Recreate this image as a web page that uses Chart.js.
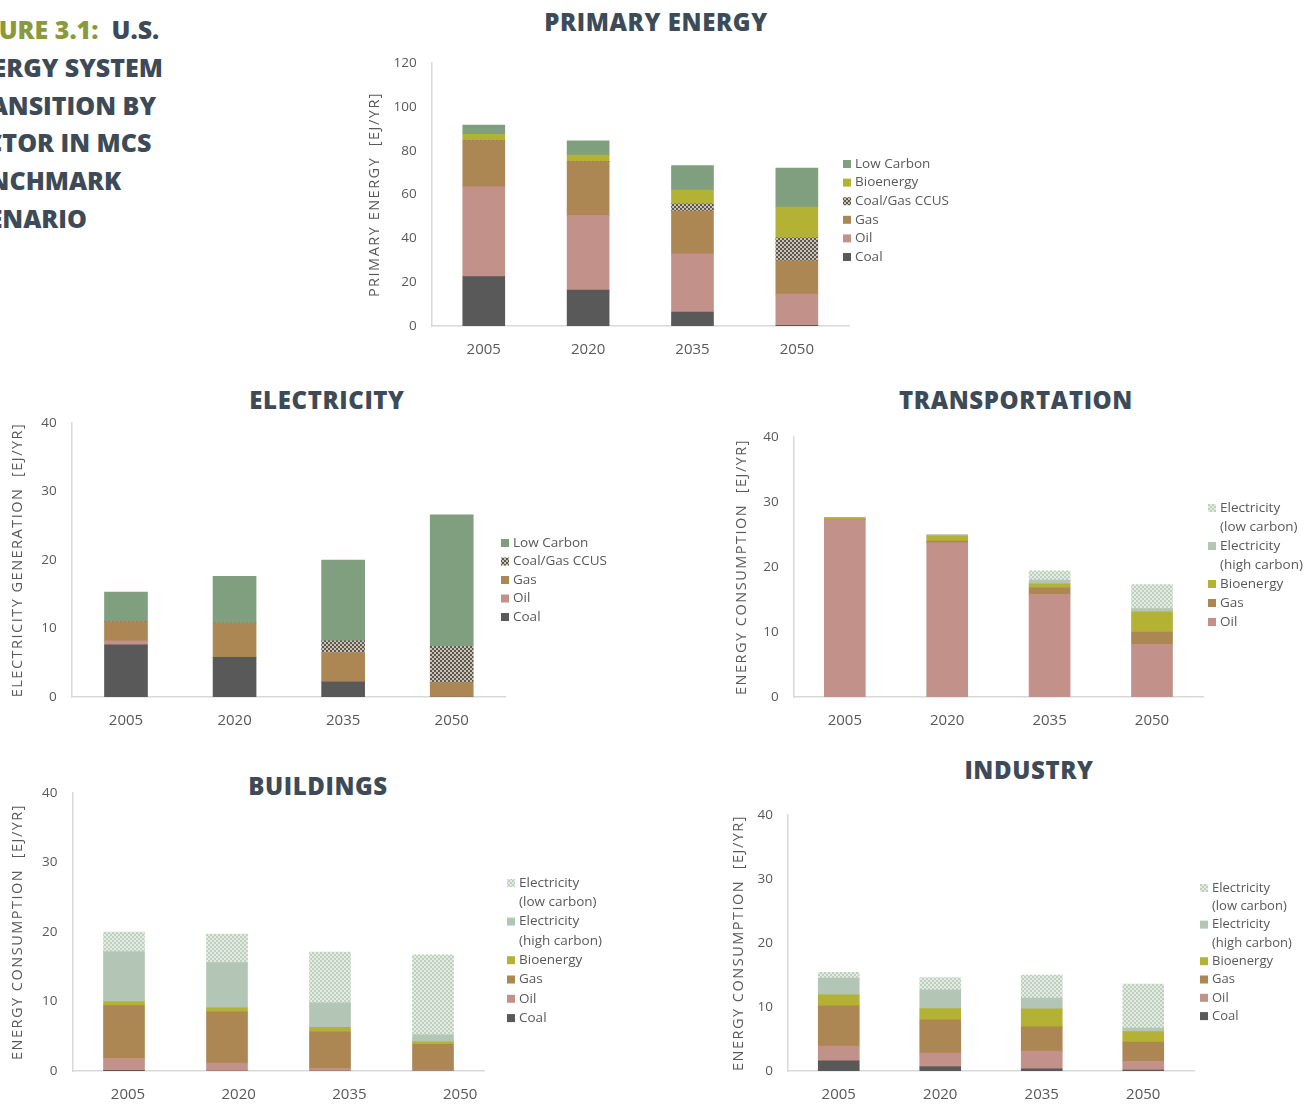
<!DOCTYPE html>
<html>
<head>
<meta charset="utf-8">
<script src="https://cdn.jsdelivr.net/npm/chart.js@4.4.1/dist/chart.umd.min.js"></script>
<style>
  body { margin: 0; background: #fff; overflow: hidden; }
  #page { position: relative; width: 1310px; height: 1104px; overflow: hidden; font-family: 'Open Sans', sans-serif; }
  #page canvas { position: absolute; left: 0; top: 0; }
  .fig-title { position: absolute; left: -42px; top: 11px; font-size: 25px; font-weight: 800; line-height: 37.8px; color: #3d4a57; white-space: nowrap; }
  .fig-title .num { color: #8a9a3b; }
  .sec { position: absolute; width: 400px; text-align: center; font-size: 24px; font-weight: 800; color: #3d4a57; line-height: 30px; letter-spacing: 0.6px; white-space: nowrap; }
</style>
</head>
<body>
<div id="page">
  <div class="fig-title"><span class="num">FIGURE 3.1:</span>&nbsp; U.S.<br>ENERGY SYSTEM<br>TRANSITION BY<br>SECTOR IN MCS<br>BENCHMARK<br>SCENARIO</div>
  <div class="sec" style="left:456px;top:7px">PRIMARY ENERGY</div>
  <div class="sec" style="left:127px;top:385px">ELECTRICITY</div>
  <div class="sec" style="left:816px;top:385px">TRANSPORTATION</div>
  <div class="sec" style="left:118px;top:771px">BUILDINGS</div>
  <div class="sec" style="left:829px;top:755px">INDUSTRY</div>
  <canvas id="c-primary" width="1310" height="1104"></canvas>
  <canvas id="c-elec" width="1310" height="1104"></canvas>
  <canvas id="c-trans" width="1310" height="1104"></canvas>
  <canvas id="c-build" width="1310" height="1104"></canvas>
  <canvas id="c-ind" width="1310" height="1104"></canvas>
</div>
<script>
'use strict';

const YEARS = ['2005', '2020', '2035', '2050'];

// Primary energy [EJ/yr]
const PE_COAL = [22.5, 16.4, 6.4, 0.3];
const PE_OIL  = [41.0, 34.1, 26.5, 14.3];
const PE_GAS  = [21.1, 24.5, 19.5, 15.1];
const PE_CCUS = [0, 0, 3.4, 10.5];
const PE_BIO  = [2.9, 3.0, 6.2, 14.1];
const PE_LOWC = [4.2, 6.5, 11.2, 17.8];

// Electricity generation [EJ/yr]
const EL_COAL = [7.6, 5.8, 2.2, 0];
const EL_OIL  = [0.6, 0, 0, 0];
const EL_GAS  = [2.8, 5.0, 4.3, 2.1];
const EL_CCUS = [0, 0, 1.7, 5.3];
const EL_LOWC = [4.3, 6.8, 11.8, 19.2];

// Transportation [EJ/yr]
const TR_OIL  = [27.3, 23.7, 15.8, 8.1];
const TR_GAS  = [0, 0.3, 1.0, 1.9];
const TR_BIO  = [0.3, 0.8, 0.6, 3.1];
const TR_ELHC = [0, 0.2, 0.6, 0.5];
const TR_ELLC = [0, 0, 1.4, 3.7];

// Buildings [EJ/yr]
const BU_COAL = [0.1, 0, 0, 0];
const BU_OIL  = [1.7, 1.15, 0.4, 0.15];
const BU_GAS  = [7.6, 7.35, 5.25, 3.7];
const BU_BIO  = [0.6, 0.6, 0.65, 0.35];
const BU_ELHC = [7.2, 6.5, 3.5, 1.0];
const BU_ELLC = [2.8, 4.1, 7.3, 11.5];

// Industry [EJ/yr]
const IN_COAL = [1.6, 0.7, 0.35, 0.15];
const IN_OIL  = [2.3, 2.1, 2.75, 1.35];
const IN_GAS  = [6.3, 5.2, 3.8, 3.0];
const IN_BIO  = [1.7, 1.75, 2.8, 1.65];
const IN_ELHC = [2.6, 2.95, 1.7, 0.55];
const IN_ELLC = [0.9, 1.9, 3.6, 6.9];

const FONT = "'Open Sans', sans-serif";
const GREY = '#595959';

function checker(c1, c2, size) {
  const cv = document.createElement('canvas');
  cv.width = cv.height = size * 2;
  const g = cv.getContext('2d');
  g.fillStyle = c2; g.fillRect(0, 0, size * 2, size * 2);
  g.fillStyle = c1; g.fillRect(0, 0, size, size); g.fillRect(size, size, size, size);
  return g.createPattern(cv, 'repeat');
}

const COL = {
  coal: '#595959',
  oil:  '#c1918a',
  gas:  '#ac8653',
  bio:  '#b4b235',
  lowc: '#7f9f7f',
  elhc: '#b3c6b5',
  ccus: checker('#5e574e', '#c9c2b6', 2),
  ellc: checker('#bcd0bd', '#e3ebe3', 2),
};

function ds(label, data, color) {
  return { label, data, backgroundColor: color, borderWidth: 0 };
}

// legend drawn at fixed page coords, entries top to bottom = reversed stack
const legendPlugin = {
  id: 'pageLegend',
  beforeDraw(chart) {
    // spaced-out y axis title like the source
    const s = chart.scales.y;
    if (s && !s._spaced) {
      const orig = s.drawTitle;
      s.drawTitle = function () {
        this.ctx.save();
        this.ctx.letterSpacing = '1.5px';
        orig.apply(this, arguments);
        this.ctx.restore();
      };
      s._spaced = true;
    }
  },
  afterDraw(chart, args, o) {
    const ctx = chart.ctx;
    ctx.save();
    ctx.font = `${o.size}px ${FONT}`;
    ctx.fillStyle = GREY;
    ctx.textBaseline = 'middle';
    let y = o.y;
    chart.data.datasets.slice().reverse().forEach(d => {
      ctx.fillStyle = d.backgroundColor;
      ctx.fillRect(o.x, y - 4, 8, 8);
      ctx.fillStyle = GREY;
      d.label.split('\n').forEach(line => {
        ctx.fillText(line, o.x + 12, y);
        y += o.lh;
      });
    });
    ctx.restore();
  }
};

function makeChart(id, datasets, cfg) {
  const p = cfg.plot;
  const xH = 36;
  const scales = {
    x: {
      stacked: true,
      weight: 0,
      grid: { display: false, drawTicks: false },
      border: { display: true, color: '#d9d9d9', width: 1.5 },
      ticks: { display: !cfg.labelAxis, padding: 15, color: GREY, font: { family: FONT, size: 15 } },
      afterFit: s => { s.height = cfg.labelAxis ? 0 : xH; },
    },
    y: {
      stacked: true,
      min: 0, max: cfg.yMax,
      grid: { display: false, drawTicks: false },
      border: { display: true, color: '#d9d9d9', width: 1.5 },
      ticks: { stepSize: cfg.yStep, padding: 15, color: GREY, font: { family: FONT, size: 13.5 } },
      title: { display: true, text: cfg.yTitle, color: GREY, padding: 0, font: { family: FONT, size: 14.5, lineHeight: 1.2 } },
      afterFit: s => { s.width = cfg.yW; },
    },
  };
  if (cfg.labelAxis) {
    // year labels in the source sit on a slightly wider spacing than the bars
    scales.xl = {
      type: 'linear', position: 'bottom', weight: 1, offset: false,
      min: cfg.labelAxis[0], max: cfg.labelAxis[1],
      grid: { display: false, drawTicks: false, offset: false },
      border: { display: false },
      ticks: { autoSkip: false, maxRotation: 0, padding: 15, color: GREY, font: { family: FONT, size: 15 },
               callback: v => YEARS[v] ?? '' },
      afterBuildTicks: s => { s.ticks = YEARS.map((_, i) => ({ value: i })); },
      afterFit: s => { s.height = xH; },
    };
  }
  return new Chart(document.getElementById(id), {
    type: 'bar',
    data: { labels: YEARS, datasets },
    options: {
      responsive: false,
      animation: false,
      devicePixelRatio: 1,
      barThickness: cfg.barW,
      layout: { padding: { left: p.left - cfg.yW, top: p.top, right: 1310 - p.right, bottom: 1104 - p.bottom - xH } },
      plugins: { legend: { display: false }, tooltip: { enabled: false }, pageLegend: cfg.legend },
      scales,
    },
    plugins: [legendPlugin],
  });
}

makeChart('c-primary', [
  ds('Coal', PE_COAL, COL.coal),
  ds('Oil', PE_OIL, COL.oil),
  ds('Gas', PE_GAS, COL.gas),
  ds('Coal/Gas CCUS', PE_CCUS, COL.ccus),
  ds('Bioenergy', PE_BIO, COL.bio),
  ds('Low Carbon', PE_LOWC, COL.lowc),
], { plot: { left: 431.6, top: 63, right: 849, bottom: 326 }, yMax: 120, yStep: 20, yW: 65.7, barW: 42,
     yTitle: 'PRIMARY ENERGY  [EJ/YR]', legend: { x: 843, y: 164, lh: 18.6, size: 13.5 } });

makeChart('c-elec', [
  ds('Coal', EL_COAL, COL.coal),
  ds('Oil', EL_OIL, COL.oil),
  ds('Gas', EL_GAS, COL.gas),
  ds('Coal/Gas CCUS', EL_CCUS, COL.ccus),
  ds('Low Carbon', EL_LOWC, COL.lowc),
], { plot: { left: 71.7, top: 423, right: 506, bottom: 697 }, yMax: 40, yStep: 10, yW: 62.3, barW: 43,
     yTitle: 'ELECTRICITY GENERATION  [EJ/YR]', legend: { x: 501, y: 543, lh: 18.5, size: 13.5 } });

makeChart('c-trans', [
  ds('Oil', TR_OIL, COL.oil),
  ds('Gas', TR_GAS, COL.gas),
  ds('Bioenergy', TR_BIO, COL.bio),
  ds('Electricity\n(high carbon)', TR_ELHC, COL.elhc),
  ds('Electricity\n(low carbon)', TR_ELLC, COL.ellc),
], { plot: { left: 793.6, top: 437, right: 1203.2, bottom: 697 }, yMax: 40, yStep: 10, yW: 60.7, barW: 41,
     yTitle: 'ENERGY CONSUMPTION  [EJ/YR]', legend: { x: 1208, y: 508, lh: 19, size: 13.5 } });

makeChart('c-build', [
  ds('Coal', BU_COAL, COL.coal),
  ds('Oil', BU_OIL, COL.oil),
  ds('Gas', BU_GAS, COL.gas),
  ds('Bioenergy', BU_BIO, COL.bio),
  ds('Electricity\n(high carbon)', BU_ELHC, COL.elhc),
  ds('Electricity\n(low carbon)', BU_ELLC, COL.ellc),
], { plot: { left: 72.5, top: 793, right: 484.5, bottom: 1071 }, yMax: 40, yStep: 10, yW: 63.1, barW: 41,
     labelAxis: [-0.501, 3.22],
     yTitle: 'ENERGY CONSUMPTION  [EJ/YR]', legend: { x: 507, y: 883, lh: 19.3, size: 13.5 } });

makeChart('c-ind', [
  ds('Coal', IN_COAL, COL.coal),
  ds('Oil', IN_OIL, COL.oil),
  ds('Gas', IN_GAS, COL.gas),
  ds('Bioenergy', IN_BIO, COL.bio),
  ds('Electricity\n(high carbon)', IN_ELHC, COL.elhc),
  ds('Electricity\n(low carbon)', IN_ELLC, COL.ellc),
], { plot: { left: 788, top: 815, right: 1194, bottom: 1071 }, yMax: 40, yStep: 10, yW: 58, barW: 41,
     yTitle: 'ENERGY CONSUMPTION  [EJ/YR]', legend: { x: 1200, y: 888, lh: 18.3, size: 13 } });
</script>
</body>
</html>
